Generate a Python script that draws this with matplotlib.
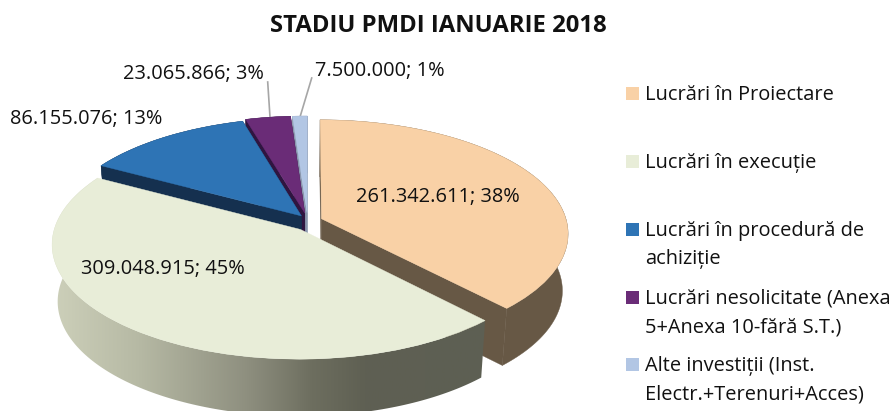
import numpy as np
import matplotlib
matplotlib.use("Agg")
import matplotlib.pyplot as plt
from matplotlib.transforms import Transform
from matplotlib.patches import Polygon, Rectangle
from matplotlib.colors import LinearSegmentedColormap

plt.rcParams['font.family'] = ['Open Sans', 'DejaVu Sans']

# ---- data
categories = ["Lucrări în Proiectare", "Lucrări în execuție",
              "Lucrări în procedură de\nachiziție",
              "Lucrări nesolicitate (Anexa\n5+Anexa 10-fără S.T.)",
              "Alte investiții (Inst.\nElectr.+Terenuri+Acces)"]
values = [261342611, 309048915, 86155076, 23065866, 7500000]
title = "STADIU PMDI IANUARIE 2018"

# ---- style
top_colors = ["#F9D1A6", "#E8EDD8", "#2E74B5", "#6A2C77", "#B2C6E4"]
wall_colors = ["#675845", "#8E8F7F", "#15304F", "#2F1540", "#8A97AD"]
explode = [0.055, 0.05, 0.07, 0.10, 0.11]
nudges = [(0, -4), (-1, 0), (3, -3), (0, -1), (-1, 0)]
draw_order = [4, 3, 2, 0, 1]
CX, CY, RX, RY, K = 309, 225, 245, 112, 0.127
DEPTH = 57
SHRINK = 0.022
label_pos = [(438, 197), (163, 269), (86.5, 119), (193, 74), (380, 71)]
legend_y = [94, 162, 230, 298, 365]
FS = 14.4


def project(xy, dx=0, dy=0, z=0):
    xy = np.asarray(xy, dtype=float)
    u, v = xy[..., 0], xy[..., 1]
    s = 1 / (1 + K * v)
    X = RX * u * s * (1 - SHRINK * z / DEPTH) + CX + dx
    Y = CY - RY * v * s + dy + z
    return np.stack([X, Y], axis=-1)


class Persp(Transform):
    input_dims = output_dims = 2
    is_separable = False
    has_inverse = False

    def __init__(self, dx=0, dy=0, z=0):
        super().__init__()
        self.p = (dx, dy, z)

    def transform_non_affine(self, values):
        return project(values, *self.p)


fig = plt.figure(figsize=(8.92, 4.11), dpi=100, facecolor="white")
ax = fig.add_axes([0, 0, 1, 1])

wedges, _ = ax.pie(values, startangle=90, counterclock=False, explode=explode,
                   colors=top_colors, radius=1, normalize=True)
ax.set_aspect("auto")
ax.set_xlim(0, 892)
ax.set_ylim(411, 0)
ax.axis("off")

ramp = LinearSegmentedColormap.from_list(
    "side",
    [(0.0, "#CDD0BA"), (0.2, "#B6B9A4"), (0.45, "#8E8F7F"), (0.6, "#6D6E5F"),
     (0.72, "#5F6053"), (1.0, "#5D5F53")])

for rank, i in enumerate(draw_order):
    w = wedges[i]
    dx, dy = nudges[i]
    base = 10 + rank * 4
    c = np.array(w.center)
    th = np.radians(np.linspace(w.theta1, w.theta2, 160))
    arc = c + w.r * np.c_[np.cos(th), np.sin(th)]
    top_arc = project(arc, dx, dy, 0)
    bot_arc = project(arc, dx, dy, DEPTH)
    apex_t = project(c, dx, dy, 0)
    apex_b = project(c, dx, dy, DEPTH)
    strip = np.vstack([top_arc, bot_arc[::-1]])
    if i == 1:
        hold = Polygon(strip, closed=True, fc="none", ec="none",
                       transform=ax.transData)
        ax.add_patch(hold)
        grad = np.linspace(0, 1, 256).reshape(1, -1)
        im = ax.imshow(grad, cmap=ramp, extent=(52, 486, 411, 0), aspect="auto",
                       zorder=base + 1, interpolation="bilinear")
        im.set_clip_path(hold)
    else:
        for e in (0, -1):
            quad = np.array([apex_t, top_arc[e], bot_arc[e], apex_b])
            ax.add_patch(Polygon(quad, closed=True, fc=wall_colors[i], ec=wall_colors[i],
                                 lw=0.3, zorder=base))
        ax.add_patch(Polygon(strip, closed=True, fc=wall_colors[i], ec=wall_colors[i],
                             lw=0.3, zorder=base + 1))
    w.set_transform(Persp(dx, dy, 0) + ax.transData)
    w.set_edgecolor(top_colors[i])
    w.set_linewidth(0.3)
    w.set_zorder(base + 2)

ax.set_xlim(0, 892)
ax.set_ylim(411, 0)

# value labels
total = sum(values)
for val, (x, y) in zip(values, label_pos):
    txt = f"{val:,}".replace(",", ".") + f"; {val / total * 100:.0f}%"
    ax.text(x, y, txt, ha="center", va="center", fontsize=FS, color="#111111", zorder=50)

# leader lines to the two thin slices
ax.plot([267.7, 270], [82, 117], color="#A6A6A6", lw=1.2, zorder=9)
ax.plot([311.7, 300], [78, 117], color="#A6A6A6", lw=1.2, zorder=9)

# legend
for name, col, y in zip(categories, top_colors, legend_y):
    ax.add_patch(Rectangle((626, y - 7.3), 13.3, 13.3, fc=col, ec="none", zorder=40))
    for j, line in enumerate(name.split("\n")):
        ax.text(645, y + j * 28.5 + 0.5, line, ha="left", va="center",
                fontsize=FS, color="#111111", zorder=50)

ax.text(438, 25.5, title, ha="center", va="center", fontsize=17.2, fontweight="bold",
        color="#111111", zorder=50)

fig.savefig("out.png", dpi=100, facecolor="white")
